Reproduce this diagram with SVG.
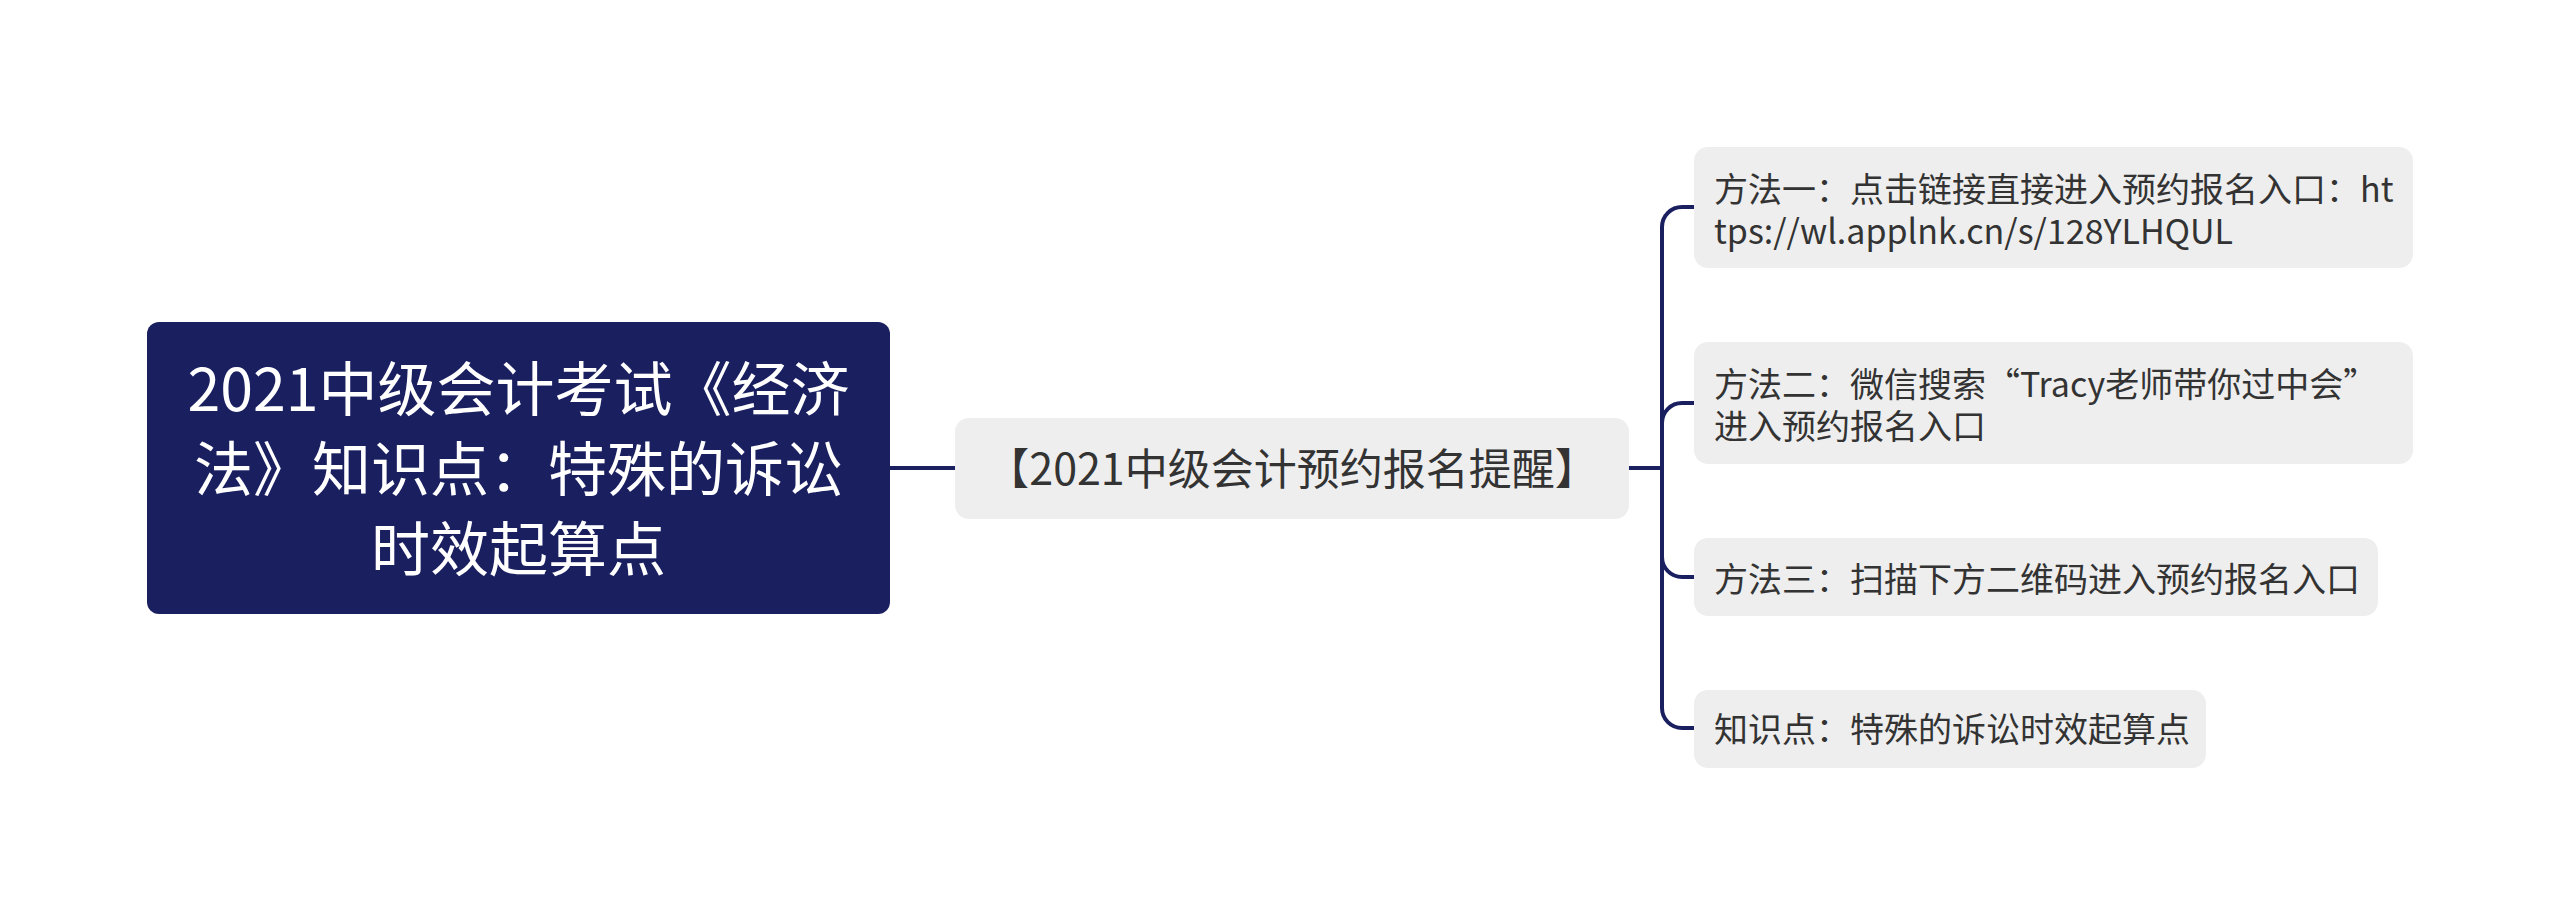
<svg xmlns="http://www.w3.org/2000/svg" width="2560" height="915" viewBox="0 0 2560 915">
<style>
text{font-family:"Noto Sans CJK SC","Noto Sans",sans-serif;}
.root-box{fill:#1a1f60;}
.root-text{fill:#ffffff;font-size:59px;text-anchor:middle;}
.box{fill:#eeeeee;}
.mid-text{fill:#333333;font-size:43px;text-anchor:middle;}
.leaf-text{fill:#333333;font-size:34px;}
.conn{fill:none;stroke:#1a1f60;stroke-width:4;}
</style>
<rect width="2560" height="915" fill="#ffffff"/>
<g id="connectors">
<path class="conn" d="M889,468 L955,468"/>
<path class="conn" d="M1629,468 L1662,468"/>
<path class="conn" d="M1662,468 L1662,227 A20,20 0 0 1 1682,207 L1695,207"/>
<path class="conn" d="M1662,468 L1662,423 A20,20 0 0 1 1682,403 L1695,403"/>
<path class="conn" d="M1662,468 L1662,557 A20,20 0 0 0 1682,577 L1695,577"/>
<path class="conn" d="M1662,468 L1662,708 A20,20 0 0 0 1682,728 L1695,728"/>
</g>
<g id="root">
<rect class="root-box" x="147" y="322" width="743" height="292" rx="12"/>
<text class="root-text"><tspan x="518.5" y="411">2021中级会计考试《经济</tspan><tspan x="518.5" y="491">法》知识点：特殊的诉讼</tspan><tspan x="518.5" y="571">时效起算点</tspan></text>
</g>
<g id="mid">
<rect class="box" x="955" y="418" width="674" height="101" rx="14"/>
<text class="mid-text" x="1292" y="485">【2021中级会计预约报名提醒】</text>
</g>
<g id="leaf1">
<rect class="box" x="1694" y="147" width="719" height="121" rx="14"/>
<text class="leaf-text"><tspan x="1714" y="202">方法一：点击链接直接进入预约报名入口：ht</tspan><tspan x="1714" y="244">tps://wl.applnk.cn/s/128YLHQUL</tspan></text>
</g>
<g id="leaf2">
<rect class="box" x="1694" y="342" width="719" height="122" rx="14"/>
<text class="leaf-text"><tspan x="1714" y="397">方法二：微信搜索“Tracy老师带你过中会”</tspan><tspan x="1714" y="439">进入预约报名入口</tspan></text>
</g>
<g id="leaf3">
<rect class="box" x="1694" y="538" width="684" height="78" rx="14"/>
<text class="leaf-text" x="1714" y="592">方法三：扫描下方二维码进入预约报名入口</text>
</g>
<g id="leaf4">
<rect class="box" x="1694" y="690" width="512" height="78" rx="14"/>
<text class="leaf-text" x="1714" y="742">知识点：特殊的诉讼时效起算点</text>
</g>
</svg>
